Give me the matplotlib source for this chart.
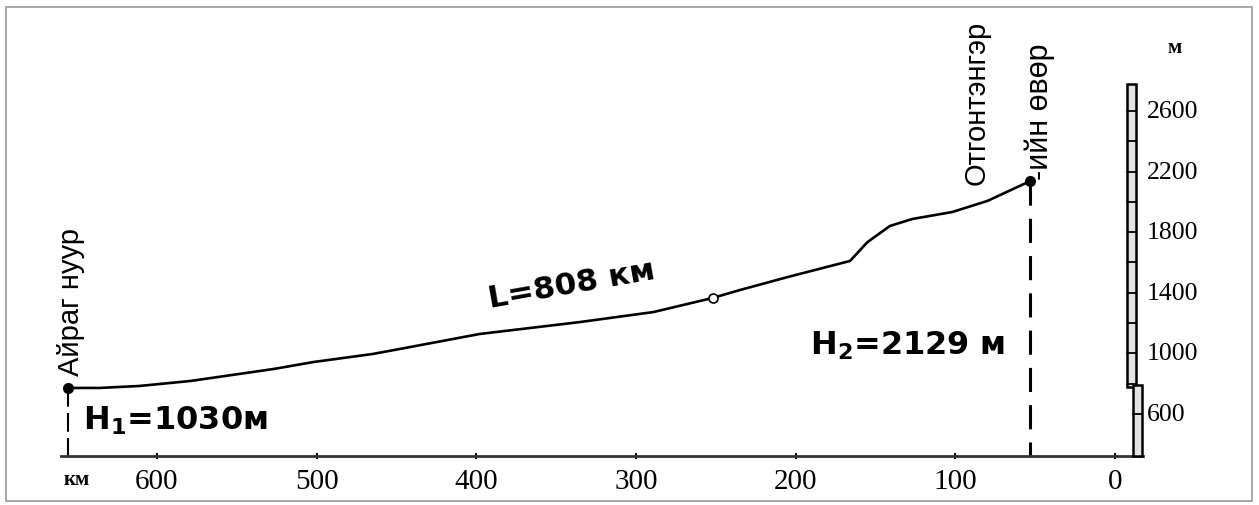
import matplotlib.pyplot as plt
from matplotlib.patches import Rectangle

# longitudinal profile: distance to mouth (km) and elevation (m)
dist_km = [656, 636, 611, 579, 527, 502, 465, 448, 398, 335, 289, 252,
           235, 205, 166, 155, 141, 127, 102, 80, 53]
elev_m = [772, 772, 785, 818, 897, 943, 996, 1029, 1128, 1207, 1273, 1366,
          1418, 1504, 1610, 1735, 1841, 1887, 1933, 2006, 2138]

mid_km, mid_m = 252, 1366
x_ticks = [600, 500, 400, 300, 200, 100, 0]
y_labels = [600, 1000, 1400, 1800, 2200, 2600]
bar_ticks = [600, 800, 1000, 1200, 1400, 1600, 1800, 2000, 2200, 2400, 2600]

# pixel layout of the original
W, H = 1259, 506
fig = plt.figure(figsize=(W / 100, H / 100), dpi=100)
ax = fig.add_axes([61 / W, (H - 457) / H, (1143 - 61) / W, (457 - 10) / H])
ax.set_xlim(660.1, -17.5)
ax.set_ylim(322.8, 3273)

for s in ["left", "top", "right"]:
    ax.spines[s].set_visible(False)
ax.spines["bottom"].set_linewidth(2.0)
ax.spines["bottom"].set_color("#333333")
ax.set_yticks([])
ax.set_xticks(x_ticks)
ax.set_xticklabels([str(t) for t in x_ticks], family="Liberation Serif", fontsize=21)
ax.tick_params(axis="x", direction="inout", length=5, width=1.5, pad=6)

# profile line
ax.plot(dist_km, elev_m, color="black", lw=1.9, solid_capstyle="round", zorder=3)
ax.plot([dist_km[0], dist_km[-1]], [elev_m[0], elev_m[-1]], "o", color="black",
        markersize=7, zorder=4)
ax.plot(mid_km, mid_m, "o", mfc="white", mec="black", mew=1.2, markersize=6.5, zorder=4)

# dashed drops to the axis
ax.plot([dist_km[0], dist_km[0]], [elev_m[0], 323], color="black", lw=1.5,
        linestyle=(0, (9, 3)), zorder=2)
ax.plot([dist_km[-1], dist_km[-1]], [elev_m[-1], 323], color="black", lw=2.2,
        linestyle=(0, (7.9, 4.3)), zorder=2)

# vertical elevation scale bar
ax.add_patch(Rectangle((-13.2, 780), 5.7, 2778 - 780, fc="#e4e4e4", ec="black",
                       lw=1.8, clip_on=False, zorder=3))
ax.add_patch(Rectangle((-17.0, 323), 5.7, 790 - 323, fc="#e4e4e4", ec="black",
                       lw=1.8, clip_on=False, zorder=3))
for t in bar_ticks:
    x0, x1 = (-11.3, -17.0) if t < 790 else (-7.5, -13.2)
    ax.plot([x0, x1], [t, t], color="black", lw=1.3, clip_on=False, zorder=4)
for t in y_labels:
    ax.text(-20, t, str(t), family="Liberation Serif", fontsize=18.5,
            ha="left", va="center", clip_on=False)
ax.text(-37, 3020, "м", family="Liberation Serif", fontsize=15, fontweight="bold",
        ha="center", va="center", clip_on=False)
ax.text(650, 172, "км", family="Liberation Serif", fontsize=15, fontweight="bold",
        ha="center", va="center", clip_on=False)

# labels
ax.text(653.8, 857, "Айраг нуур", family="Liberation Sans",
        fontsize=21, rotation=90, ha="center", va="bottom")
ax.text(86.4, 2118, "Отгонтэнгэр", family="Liberation Sans",
        fontsize=21, rotation=90, ha="center", va="bottom")
ax.text(47, 2150, "-ийн өвөр", family="Liberation Sans",
        fontsize=22, rotation=90, ha="center", va="bottom")

ax.text(646.4, 501, r"$\mathbf{H_1}$=1030м", family="DejaVu Sans",
        fontweight="bold", fontsize=23, ha="left", va="baseline")
ax.text(191, 996, r"$\mathbf{H_2}$=2129 м", family="DejaVu Sans",
        fontweight="bold", fontsize=23, ha="left", va="baseline")
ax.text(340, 1458, "L=808 км", family="DejaVu Sans", fontweight="bold",
        fontsize=22.5, rotation=10, rotation_mode="anchor", ha="center", va="center")

# scanned page border
fig.add_artist(Rectangle((6 / W, 4 / H), (1252 - 6) / W, (498 - 4) / H,
                         transform=fig.transFigure, fill=False, ec="#9a9a9a", lw=1.2))

fig.savefig("out.png", dpi=100)
